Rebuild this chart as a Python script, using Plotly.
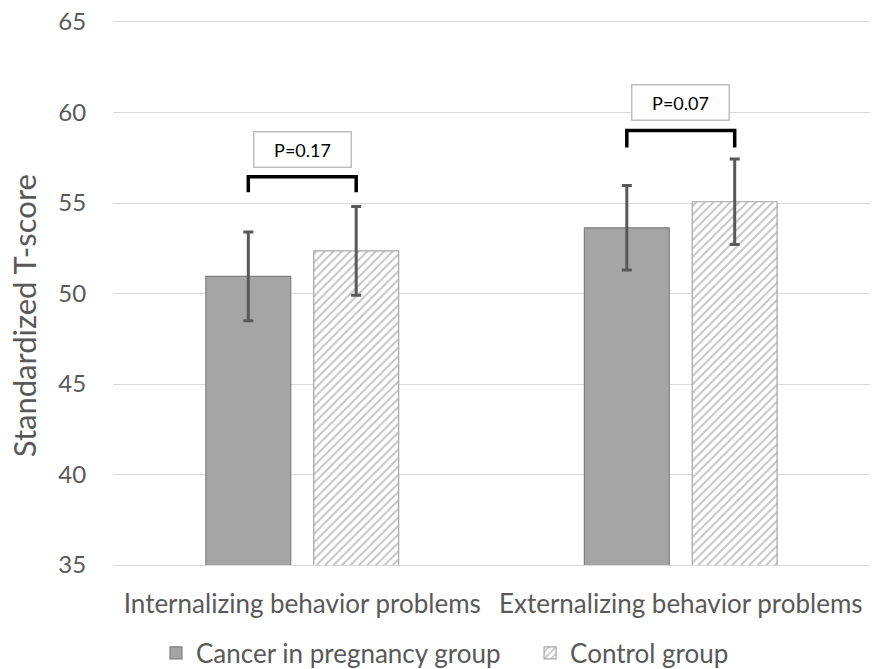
import plotly.graph_objects as go

categories = ["Internalizing behavior problems", "Externalizing behavior problems"]
series_names = ["Cancer in pregnancy group", "Control group"]
cancer_mean = [50.95, 53.63]
cancer_err = [2.45, 2.33]
control_mean = [52.35, 55.07]
control_err = [2.45, 2.36]
p_labels = ["P=0.17", "P=0.07"]
bracket_top = [56.45, 59.0]
bracket_bottom = [55.6, 58.06]
label_y = [57.93, 60.56]
y_ticks = [35, 40, 45, 50, 55, 60, 65]
y_title = "Standardized T-score"

FONT = "Lato"
TXT = "#595959"
BARGAP = 0.43
GROUPGAP = 0.213

fig = go.Figure()
fig.add_trace(go.Bar(
    name=series_names[0], x=categories, y=cancer_mean, legend="legend", showlegend=True,
    marker=dict(color="#a5a5a5", line=dict(color="#7f7f7f", width=1.2)),
    error_y=dict(type="data", array=cancer_err, visible=True,
                 color="#595959", thickness=3, width=5),
))
fig.add_trace(go.Bar(
    name=series_names[1], x=categories, y=control_mean, legend="legend2", showlegend=True,
    marker=dict(color="white", line=dict(color="#a5a5a5", width=1.2),
                pattern=dict(shape="/", fgcolor="#8c8c8c", bgcolor="white",
                             size=6, solidity=0.35)),
    error_y=dict(type="data", array=control_err, visible=True,
                 color="#595959", thickness=3, width=5),
))

# brackets between bar centres
off = (1 - BARGAP) / 4
for i in range(len(categories)):
    x0, x1 = i - off, i + off
    fig.add_shape(type="path", xref="x", yref="y",
                  path=f"M {x0},{bracket_bottom[i]} L {x0},{bracket_top[i]} L {x1},{bracket_top[i]} L {x1},{bracket_bottom[i]}",
                  line=dict(color="black", width=3.5))
    fig.add_annotation(x=i, y=label_y[i], xref="x", yref="y", text=p_labels[i],
                       showarrow=False, font=dict(family=FONT, size=18, color="black"),
                       bordercolor="#bfbfbf", borderwidth=1.5, borderpad=3,
                       width=90, height=28, bgcolor="white")

# y-axis title
fig.add_annotation(x=-0.1176, y=0.46, xref="paper", yref="paper", text=y_title,
                   textangle=-90, showarrow=False, xanchor="center", yanchor="middle",
                   font=dict(family=FONT, size=31, color=TXT))

leg_font = dict(family=FONT, size=26, color=TXT)
fig.update_layout(
    width=874, height=669, showlegend=True,
    margin=dict(l=113, r=4, t=22, b=104, autoexpand=False),
    paper_bgcolor="white", plot_bgcolor="white",
    barmode="group", bargap=BARGAP, bargroupgap=GROUPGAP,
    font=dict(family=FONT, color=TXT, size=20),
    legend=dict(orientation="h", x=0.0568, xanchor="left", y=-0.162, yanchor="middle",
                font=leg_font, visible=True),
    legend2=dict(orientation="h", x=0.551, xanchor="left", y=-0.162, yanchor="middle",
                 font=leg_font, visible=True),
    yaxis=dict(range=[35, 65], tickvals=y_ticks, showgrid=True, gridcolor="#d9d9d9",
               gridwidth=1, zeroline=False, ticks="outside", ticklen=21, automargin=False,
               tickcolor="rgba(0,0,0,0)", tickfont=dict(family=FONT, size=24, color=TXT)),
    xaxis=dict(showline=True, mirror=True, linecolor="#d9d9d9", linewidth=1, ticks="outside",
               ticklen=16, automargin=False,
               tickcolor="rgba(0,0,0,0)", tickfont=dict(family=FONT, size=26, color=TXT)),
)

fig.write_html("out.html", config={"displayModeBar": False},
               post_script="document.body.style.margin='0';document.body.style.overflow='hidden';")
